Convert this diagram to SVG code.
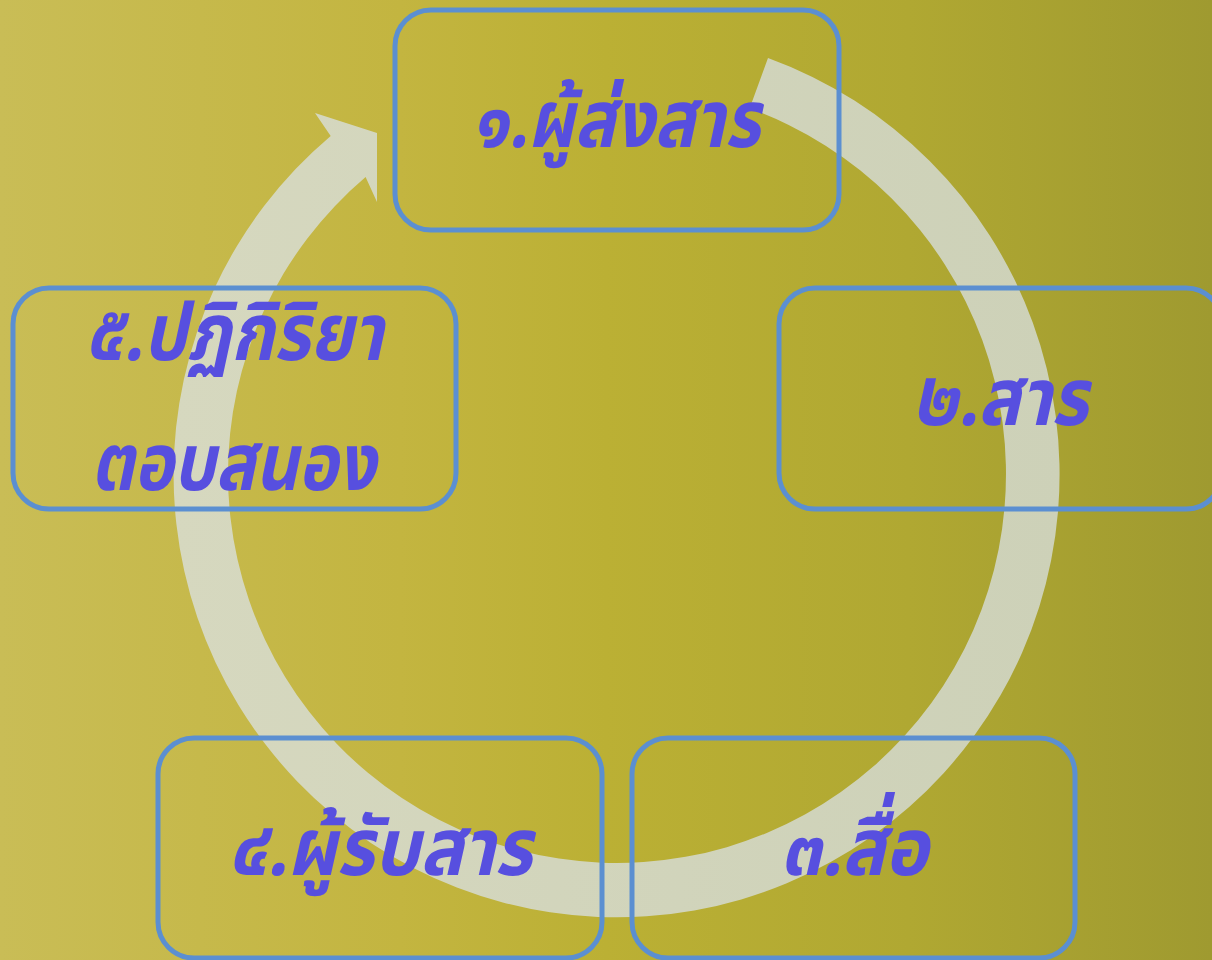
<svg xmlns="http://www.w3.org/2000/svg" width="1212" height="960" viewBox="0 0 1212 960">
<defs>
<linearGradient id="bg" x1="0" y1="0" x2="1212" y2="0" gradientUnits="userSpaceOnUse">
<stop offset="0" stop-color="#c9bd56"/>
<stop offset="0.33" stop-color="#c3b540"/>
<stop offset="0.5" stop-color="#bbb034"/>
<stop offset="0.75" stop-color="#b0a832"/>
<stop offset="1" stop-color="#9f9a30"/>
</linearGradient>
<linearGradient id="ring" x1="170" y1="0" x2="1065" y2="0" gradientUnits="userSpaceOnUse">
<stop offset="0" stop-color="#d6d8bf"/>
<stop offset="1" stop-color="#cdd1b8"/>
</linearGradient>
<style>
.box{fill:none;stroke:#5b8fd1;stroke-width:5}
.t{font-family:"Noto Sans Thai","Noto Sans","DejaVu Sans",sans-serif;font-style:italic;font-weight:bold;font-size:80px;fill:#574fdf;text-anchor:middle}
</style>
</defs>
<rect width="1212" height="960" fill="url(#bg)"/>
<g id="connectors">
<path d="M768,58 A443,443 0 1 1 330.7,135.9 L315,113 L377,133 L377,202 L365.6,177.1 A389,389 0 1 0 749.7,108.3 Z" fill="url(#ring)"/>
</g>
<g id="node1"><rect class="box" x="395" y="10" width="444" height="220" rx="36"/><text class="t" x="616" y="147" textLength="288" lengthAdjust="spacingAndGlyphs">๑.ผู้ส่งสาร</text></g>
<g id="node2"><rect class="box" x="779" y="288" width="443" height="221" rx="36"/><text class="t" x="1000" y="425" textLength="176" lengthAdjust="spacingAndGlyphs">๒.สาร</text></g>
<g id="node3"><rect class="box" x="632" y="738" width="443" height="220" rx="36"/><text class="t" x="854" y="875" textLength="148" lengthAdjust="spacingAndGlyphs">๓.สื่อ</text></g>
<g id="node4"><rect class="box" x="158" y="738" width="444" height="220" rx="36"/><text class="t" x="380" y="875" textLength="304" lengthAdjust="spacingAndGlyphs">๔.ผู้รับสาร</text></g>
<g id="node5"><rect class="box" x="13" y="288" width="443" height="221" rx="36"/><text class="t" x="234" y="360" textLength="298" lengthAdjust="spacingAndGlyphs">๕.ปฏิกิริยา</text><text class="t" x="233" y="490" textLength="285" lengthAdjust="spacingAndGlyphs">ตอบสนอง</text></g>
</svg>
